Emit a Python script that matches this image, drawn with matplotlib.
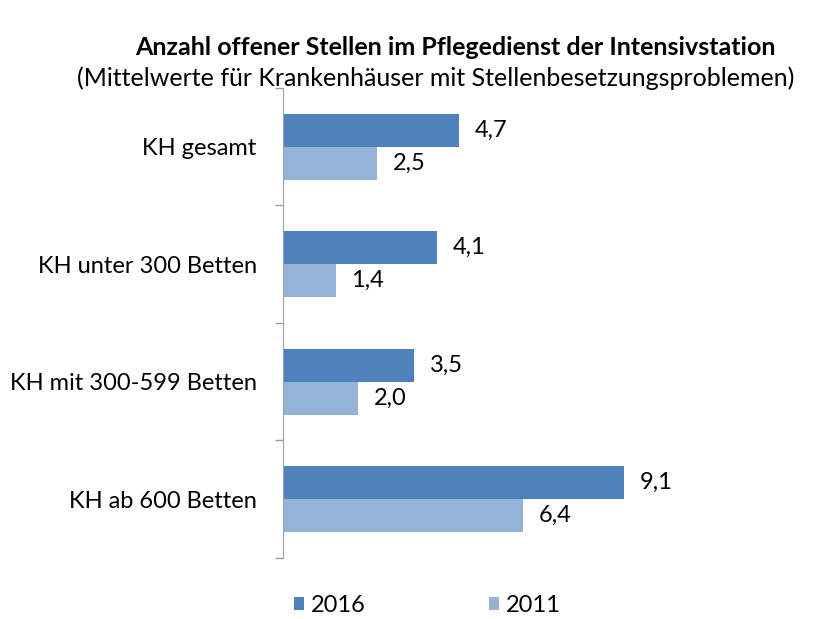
import matplotlib.pyplot as plt
import numpy as np

# data
categories = ["KH gesamt", "KH unter 300 Betten", "KH mit 300-599 Betten", "KH ab 600 Betten"]
values_2016 = [4.7, 4.1, 3.5, 9.1]
values_2011 = [2.5, 1.4, 2.0, 6.4]
series_labels = ["2016", "2011"]

plt.rcParams['font.family'] = ['Lato', 'DejaVu Sans']
fs = 17

fig = plt.figure(figsize=(8.14, 6.19), dpi=100)
ax = fig.add_axes([0.3477, 0.0985, 0.4607, 0.7595])

y = np.arange(len(categories))
h = 0.28
b1 = ax.barh(y - h / 2, values_2016, height=h, color='#4F81BD', label=series_labels[0])
b2 = ax.barh(y + h / 2, values_2011, height=h, color='#95B3D7', label=series_labels[1])

for bars, vals in ((b1, values_2016), (b2, values_2011)):
    for bar, v in zip(bars, vals):
        ax.text(bar.get_width() + 0.42, bar.get_y() + bar.get_height() / 2,
                f"{v:.1f}".replace('.', ','), va='center', ha='left', fontsize=fs)

ax.set_ylim(len(categories) - 0.5, -0.5)
ax.set_xlim(0, 10)
ax.set_yticks(y)
ax.set_yticklabels(categories, fontsize=fs)
ax.set_yticks(np.arange(len(categories) + 1) - 0.5, minor=True)
ax.tick_params(axis='y', which='major', length=0, pad=19)
ax.tick_params(axis='y', which='minor', length=6, color='#A0A0A0', width=1)
ax.set_xticks([])
for s in ['top', 'right', 'bottom']:
    ax.spines[s].set_visible(False)
ax.spines['left'].set_color('#A0A0A0')

fig.text(0.559, 0.924, "Anzahl offener Stellen im Pflegedienst der Intensivstation",
         ha='center', va='center', fontsize=18, fontweight='bold')
fig.text(0.535, 0.874, "(Mittelwerte für Krankenhäuser mit Stellenbesetzungsproblemen)",
         ha='center', va='center', fontsize=18)

fig.legend(handles=[b1, b2], loc='center', bbox_to_anchor=(0.525, 0.022), ncol=2,
           frameon=False, fontsize=fs, handlelength=0.42, handleheight=0.42,
           handletextpad=0.3, columnspacing=5.2, borderpad=0)

fig.savefig("out.png", dpi=100)
